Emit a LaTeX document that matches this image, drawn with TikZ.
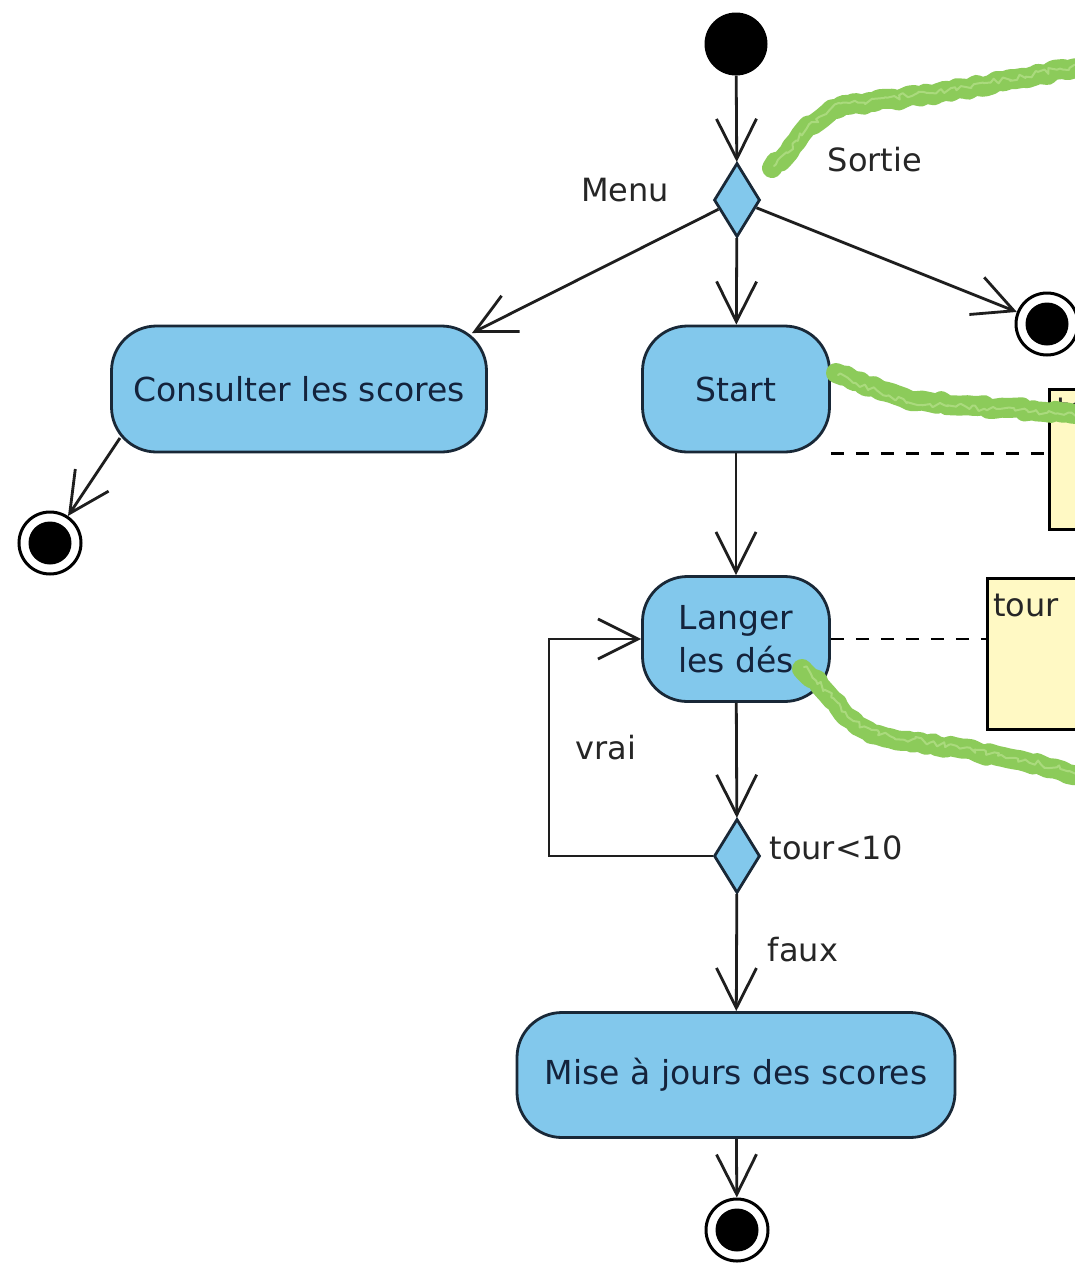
\documentclass[tikz,border=0pt]{standalone}
\usepackage{fontspec}
\setmainfont{DejaVu Sans}
\usetikzlibrary{shapes.geometric,arrows.meta,decorations.pathmorphing,calc}
\definecolor{actblue}{RGB}{130,200,236}
\definecolor{actborder}{RGB}{25,40,55}
\definecolor{acttext}{RGB}{20,35,60}
\definecolor{notefill}{RGB}{255,249,196}
\definecolor{chalk}{RGB}{140,203,90}
\definecolor{chalklight}{RGB}{170,218,125}
\definecolor{wire}{RGB}{30,30,30}
\begin{document}
\begin{tikzpicture}[x=1pt,y=-1pt,
 action/.style={draw=actborder,fill=actblue,line width=2.8pt,rounded corners=45pt,text=acttext,font=\fontsize{33}{43}\selectfont,align=center,inner sep=0pt},
 decision/.style={diamond,draw=actborder,fill=actblue,line width=2.8pt,minimum width=46pt,minimum height=74pt,inner sep=0pt},
 initnode/.style={circle,fill=black,minimum size=63pt,inner sep=0pt},
 finalnode/.style={circle,draw=black,line width=3pt,fill=white,minimum size=62pt,inner sep=0pt,path picture={\fill[black] (path picture bounding box.center) circle (21.5pt);}},
 flow/.style={draw=wire,line width=2.8pt,-{Straight Barb[length=40pt,width=40pt,line width=2.8pt]}},
 lbl/.style={font=\fontsize{32}{38}\selectfont,text=black!85,inner sep=0pt},
 note/.style={draw=black,line width=3pt,fill=notefill,inner sep=0pt},
 dashlink/.style={draw=black,line width=2.8pt,dash pattern=on 13pt off 12pt},
 chalkline/.style={draw=chalk,line width=20pt,line cap=round,line join=round,decorate,decoration={random steps,segment length=6pt,amplitude=2pt}},
 chalktex/.style={draw=chalklight,line width=2pt,line cap=round,line join=round,decorate,decoration={random steps,segment length=4pt,amplitude=3pt}}]
\fill[white] (0,0) rectangle (1075,1264);
\useasboundingbox (0,0) rectangle (1075,1264);
\clip (0,0) rectangle (1075,1264);

% notes
\node[note,minimum width=110pt,minimum height=140pt,anchor=north west] (note1) at (1048,388) {};
\node[lbl,anchor=north west] (note1t) at (1056,398) {tour};
\node[note,minimum width=140pt,minimum height=151pt,anchor=north west] (note2) at (986,577) {};
\node[lbl,anchor=north west] (note2t) at (993,594) {tour};

% nodes
\node[initnode] (init) at (736,44) {};
\node[decision] (menu) at (737,200) {};
\node[finalnode] (fin1) at (1047,324) {};
\node[action,minimum width=375pt,minimum height=126pt] (cons) at (299,389) {Consulter les scores};
\node[finalnode] (fin2) at (50,543) {};
\node[action,minimum width=187pt,minimum height=126pt] (start) at (736,389) {Start};
\node[action,minimum width=187pt,minimum height=125pt] (langer) at (736,639) {Langer\\les dés};
\node[decision] (test) at (737,856) {};
\node[action,minimum width=438pt,minimum height=125pt] (maj) at (736,1075) {Mise à jours des scores};
\node[finalnode] (fin3) at (737,1230) {};

% labels
\node[lbl] (lmenu) at (625,190) {Menu};
\node[lbl] (lsortie) at (875,160) {Sortie};
\node[lbl] (lvrai) at (606,748) {vrai};
\node[lbl] (ltour) at (836,848) {tour<10};
\node[lbl] (lfaux) at (803,950) {faux};

% connectors
\coordinate (consin) at (472,333);
\coordinate (consout) at (120,438);
\coordinate (loopbl) at (549,856);
\coordinate (looptl) at (549,639);
\draw[flow] (init) -- (menu);
\draw[flow] (menu) -- (consin);
\draw[flow] (menu) -- (fin1);
\draw[flow] (menu) -- (start);
\draw[flow] (consout) -- (fin2);
\draw[flow] (start) -- (langer);
\draw[flow] (langer) -- (test);
\draw[flow] (test.west) -- (loopbl) -- (looptl) -- (langer.west);
\draw[flow] (test) -- (maj);
\draw[flow] (maj) -- (fin3);

% note links
\draw[dashlink] (start.south east) -- (start.south east -| note1.west);
\draw[dashlink] (langer.east) -- (langer.east -| note2.west);

% green hand-drawn strokes
\draw[chalkline] (772,168) .. controls (800,140) and (815,110) .. (850,105) .. controls (950,92) .. (1085,66);
\draw[chalkline] (836,373) .. controls (870,385) and (890,398) .. (930,402) .. controls (1000,408) .. (1085,413);
\draw[chalkline] (802,669) .. controls (830,690) and (845,730) .. (890,738) .. controls (980,752) .. (1085,776);
\draw[chalktex] (774,166) .. controls (800,140) and (815,110) .. (850,103) .. controls (950,90) .. (1085,64);
\draw[chalktex] (838,375) .. controls (870,387) and (890,400) .. (930,404) .. controls (1000,410) .. (1085,415);
\draw[chalktex] (804,667) .. controls (832,690) and (845,728) .. (890,736) .. controls (980,750) .. (1085,774);
\end{tikzpicture}
\end{document}
